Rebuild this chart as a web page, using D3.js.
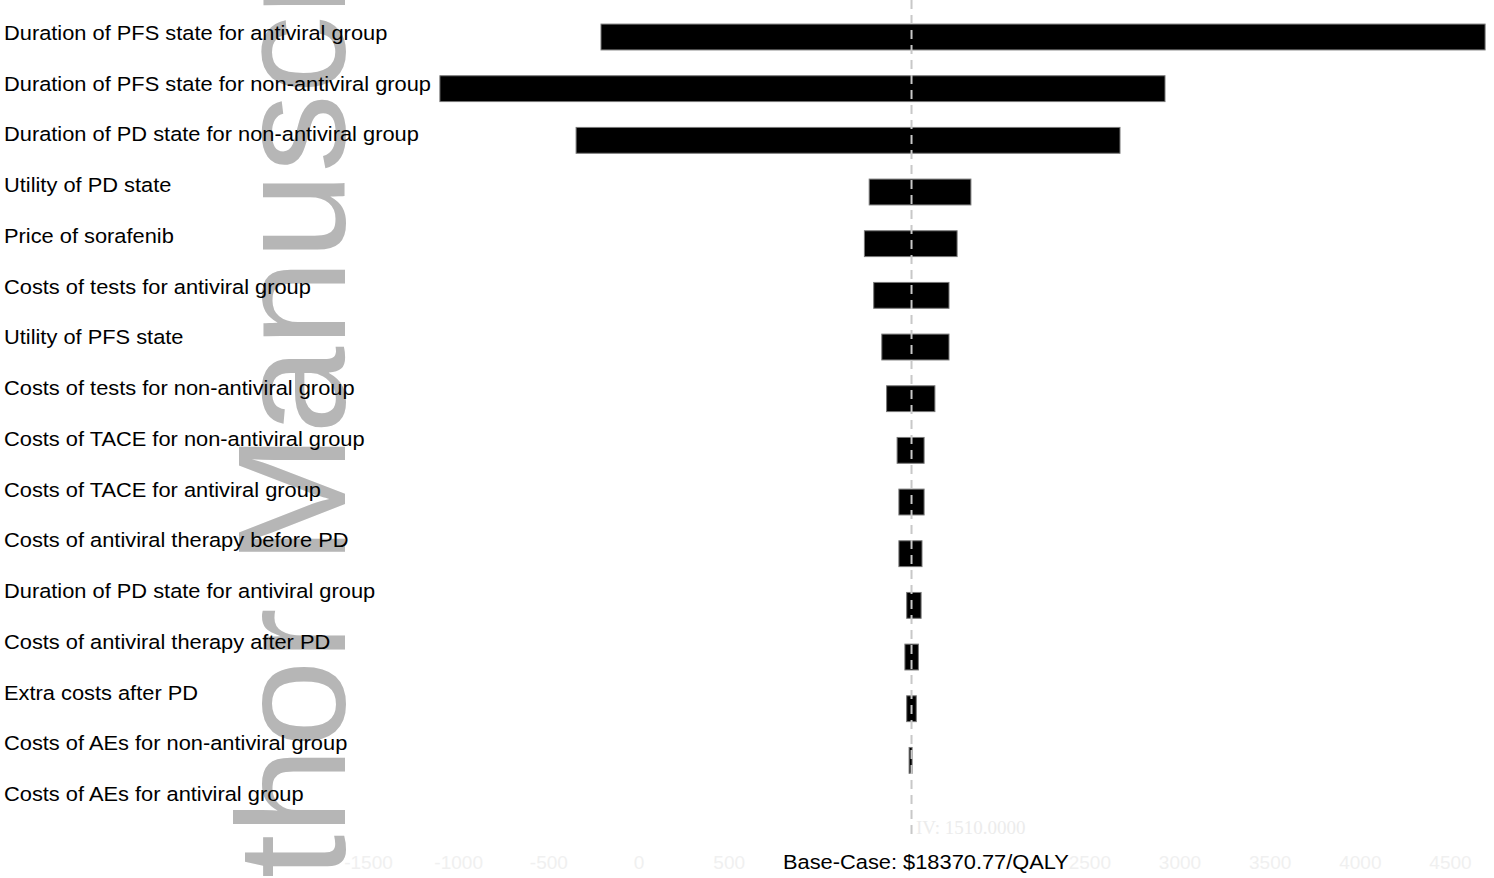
<!DOCTYPE html>
<html>
<head>
<meta charset="utf-8">
<script src="https://cdn.jsdelivr.net/npm/d3@7"></script>
<style>
  html, body { margin: 0; padding: 0; background: #fff; }
  svg { display: block; }
</style>
</head>
<body>
<svg id="chart" width="1494" height="878"></svg>
<script>
// One-way sensitivity analysis (tornado diagram), ICER in $/QALY
const parameters = [
  "Duration of PFS state for antiviral group",
  "Duration of PFS state for non-antiviral group",
  "Duration of PD state for non-antiviral group",
  "Utility of PD state",
  "Price of sorafenib",
  "Costs of tests for antiviral group",
  "Utility of PFS state",
  "Costs of tests for non-antiviral group",
  "Costs of TACE for non-antiviral group",
  "Costs of TACE for antiviral group",
  "Costs of antiviral therapy before PD",
  "Duration of PD state for antiviral group",
  "Costs of antiviral therapy after PD",
  "Extra costs after PD",
  "Costs of AEs for non-antiviral group",
  "Costs of AEs for antiviral group"
];
const icerLow  = [8020, 2650, 7190, 16960, 16800, 17110, 17380, 17540, 17890, 17950, 17950, 18210, 18150, 18210, 18290, 18370.77];
const icerHigh = [37490, 26820, 25320, 20350, 19890, 19620, 19620, 19150, 18790, 18790, 18720, 18690, 18600, 18530, 18390, 18370.77];
const baseCase = 18370.77;
const baseCaseLabel = "Base-Case: $18370.77/QALY";

// Faint secondary axis printed under the chart (values hidden by the caption are left out)
const faintTicks = [-1500, -1000, -500, 0, 500, 2500, 3000, 3500, 4000, 4500];
const faintNote = "IV: 1510.0000";

const watermark = "Author Manuscript";

const sans = "\"Liberation Sans\", Arial, Helvetica, sans-serif";
const serif = "\"Liberation Serif\", \"Times New Roman\", serif";

const rows = parameters.map((p, i) => ({ name: p, low: icerLow[i], high: icerHigh[i] }));

const svg = d3.select("#chart");

// Scales
const x = d3.scaleLinear().domain([0, 40000]).range([360.4, 1560.4]);
const y = d3.scaleBand().domain(parameters).range([-1.75, 850.8]).paddingInner(0.5).paddingOuter(0.5);
const yLabel = d3.scalePoint().domain(parameters).range([40, 801]);
const xFaint = d3.scaleLinear().domain([-1500, 4500]).range([368, 1450]);

// Vertical watermark behind everything
svg.append("text")
  .attr("transform", "translate(345,1070) rotate(-90) scale(1.018,1)")
  .style("font-family", sans)
  .attr("font-size", 154)
  .attr("fill", "#b6b6b6")
  .text(watermark);

// Faint axis tick labels
const faintAxis = d3.axisBottom(xFaint).tickValues(faintTicks).tickSize(0).tickFormat(d => String(d));
const gFaint = svg.append("g").attr("transform", "translate(0,852)").call(faintAxis);
gFaint.select(".domain").remove();
gFaint.selectAll("text")
  .style("font-family", sans)
  .attr("font-size", 19)
  .attr("fill", "#f0f0f0");

svg.append("text")
  .attr("x", 916).attr("y", 834)
  .style("font-family", serif)
  .attr("font-size", 19)
  .attr("fill", "#ececec")
  .text(faintNote);

// Bars
svg.append("g")
  .selectAll("rect")
  .data(rows)
  .join("rect")
  .attr("x", d => x(Math.min(d.low, d.high)))
  .attr("y", d => y(d.name))
  .attr("width", d => Math.abs(x(d.high) - x(d.low)))
  .attr("height", y.bandwidth())
  .attr("fill", "#000")
  .attr("stroke", d => (d.high - d.low) > 0 ? "#777" : "none")
  .attr("stroke-width", 1);

// Base-case reference line
svg.append("line")
  .attr("x1", x(baseCase)).attr("x2", x(baseCase))
  .attr("y1", 0).attr("y2", 837)
  .attr("stroke", "#c8c8c8")
  .attr("stroke-width", 2)
  .attr("stroke-dasharray", "9,6");

// Parameter labels
const labelScaleX = 1.12;
svg.append("g")
  .attr("transform", `scale(${labelScaleX},1)`)
  .selectAll("text")
  .data(parameters)
  .join("text")
  .attr("x", 4 / labelScaleX)
  .attr("y", d => yLabel(d))
  .style("font-family", sans)
  .attr("font-size", 19.5)
  .attr("fill", "#000")
  .text(d => d);

// Base-case caption
svg.append("text")
  .attr("transform", `translate(783,869) scale(${labelScaleX},1)`)
  .style("font-family", sans)
  .attr("font-size", 19.5)
  .attr("fill", "#000")
  .text(baseCaseLabel);
</script>
</body>
</html>
